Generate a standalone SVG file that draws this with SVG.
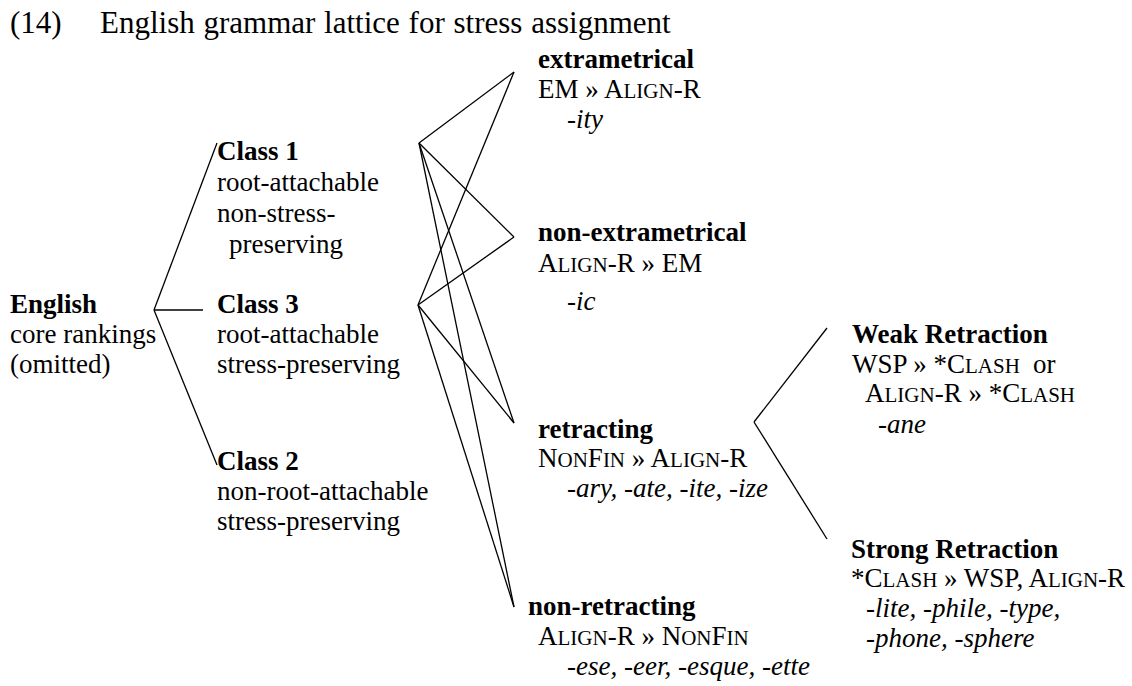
<svg xmlns="http://www.w3.org/2000/svg" width="1132" height="686" viewBox="0 0 1132 686">
<style>
text{font-family:"Liberation Serif","Times New Roman",Times,"DejaVu Serif",serif;font-size:27px;fill:#000}
.b{font-weight:bold}
.i{font-style:italic}
.sc{font-size:21px}
.t{font-size:31px}
#connectors line{stroke:#000;stroke-width:1.3;fill:none}
</style>
<rect width="1132" height="686" fill="#fff"/>
<g id="title">
<text class="t" x="10" y="33">(14)</text>
<text class="t" x="100" y="33" word-spacing="1">English grammar lattice for stress assignment</text>
</g>
<g id="connectors">
<line x1="154" y1="310" x2="217" y2="143"/>
<line x1="154" y1="310" x2="203" y2="310"/>
<line x1="154" y1="310" x2="217" y2="465"/>
<line x1="419" y1="143" x2="514" y2="72"/>
<line x1="419" y1="143" x2="514" y2="237"/>
<line x1="419" y1="143" x2="514" y2="423"/>
<line x1="419" y1="143" x2="514" y2="607"/>
<line x1="418" y1="305" x2="514" y2="72"/>
<line x1="418" y1="305" x2="514" y2="237"/>
<line x1="418" y1="305" x2="514" y2="423"/>
<line x1="418" y1="305" x2="514" y2="607"/>
<line x1="754" y1="422" x2="827" y2="328"/>
<line x1="754" y1="422" x2="827" y2="539"/>
</g>
<g id="english">
<text class="b" x="10" y="313">English</text>
<text x="10" y="343">core rankings</text>
<text x="10" y="373">(omitted)</text>
</g>
<g id="class1">
<text class="b" x="217" y="160">Class 1</text>
<text x="217" y="191">root-attachable</text>
<text x="217" y="222">non-stress-</text>
<text x="229" y="253">preserving</text>
</g>
<g id="class3">
<text class="b" x="217" y="313">Class 3</text>
<text x="217" y="343">root-attachable</text>
<text x="217" y="373">stress-preserving</text>
</g>
<g id="class2">
<text class="b" x="217" y="470">Class 2</text>
<text x="217" y="500">non-root-attachable</text>
<text x="217" y="530">stress-preserving</text>
</g>
<g id="extrametrical">
<text class="b" x="538" y="68">extrametrical</text>
<text x="538" y="98">EM » A<tspan class="sc">LIGN</tspan>-R</text>
<text class="i" x="567" y="128">-ity</text>
</g>
<g id="non-extrametrical">
<text class="b" x="538" y="241">non-extrametrical</text>
<text x="538" y="272">A<tspan class="sc">LIGN</tspan>-R » EM</text>
<text class="i" x="567" y="310">-ic</text>
</g>
<g id="retracting">
<text class="b" x="538" y="438">retracting</text>
<text x="538" y="467">N<tspan class="sc">ON</tspan>F<tspan class="sc">IN</tspan> » A<tspan class="sc">LIGN</tspan>-R</text>
<text class="i" x="567" y="497">-ary, -ate, -ite, -ize</text>
</g>
<g id="non-retracting">
<text class="b" x="528" y="615">non-retracting</text>
<text x="538" y="645">A<tspan class="sc">LIGN</tspan>-R » N<tspan class="sc">ON</tspan>F<tspan class="sc">IN</tspan></text>
<text class="i" x="567" y="675">-ese, -eer, -esque, -ette</text>
</g>
<g id="weak-retraction">
<text class="b" x="852" y="343">Weak Retraction</text>
<text x="852" y="373">WSP » *C<tspan class="sc">LASH</tspan></text>
<text x="1033" y="373">or</text>
<text x="865" y="402">A<tspan class="sc">LIGN</tspan>-R » *C<tspan class="sc">LASH</tspan></text>
<text class="i" x="878" y="433">-ane</text>
</g>
<g id="strong-retraction">
<text class="b" x="851" y="558">Strong Retraction</text>
<text x="851" y="587">*C<tspan class="sc">LASH</tspan> » WSP, A<tspan class="sc">LIGN</tspan>-R</text>
<text class="i" x="866" y="617">-lite, -phile, -type,</text>
<text class="i" x="866" y="647">-phone, -sphere</text>
</g>
</svg>
